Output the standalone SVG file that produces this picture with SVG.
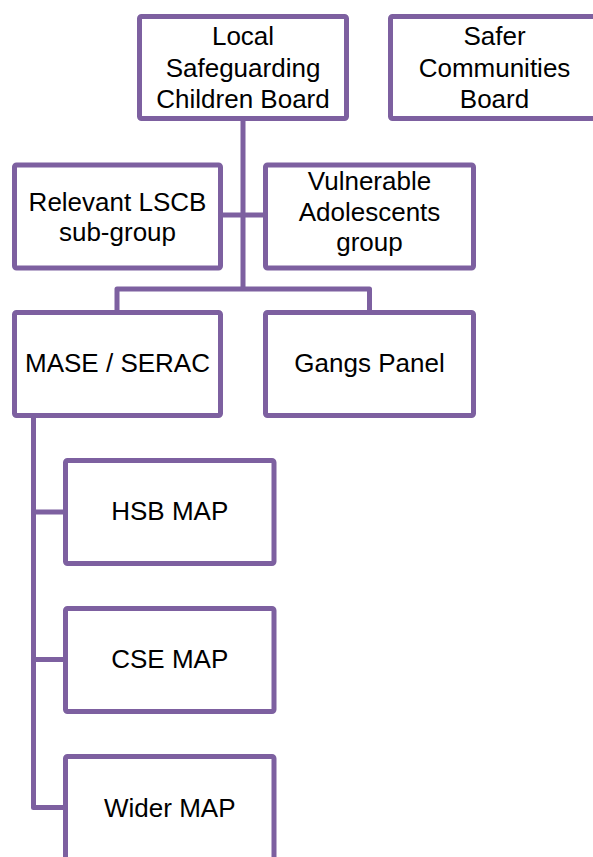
<svg xmlns="http://www.w3.org/2000/svg" width="593" height="857" viewBox="0 0 593 857">
<style>
.box{fill:#fff;stroke:#7D60A0;stroke-width:5;}
.ln{fill:none;stroke:#7D60A0;stroke-width:5;stroke-linejoin:round;}
text{font-family:"Liberation Sans",Arial,sans-serif;font-size:26px;fill:#000;text-anchor:middle;}
</style>
<rect width="593" height="857" fill="#fff"/>
<g id="connectors">
<path class="ln" d="M243,118.5 V289"/>
<path class="ln" d="M220.5,215 H265.5"/>
<path class="ln" d="M117,312.5 V289 H369.5 V312.5"/>
<path class="ln" d="M33.5,415.5 V807.5 H65.5"/>
<path class="ln" d="M33.5,512 H65.5"/>
<path class="ln" d="M33.5,659.5 H65.5"/>
</g>
<g id="lscb">
<rect class="box" x="139.5" y="16.5" width="207" height="102" rx="2"/>
<text x="243" y="45">Local</text>
<text x="243" y="77">Safeguarding</text>
<text x="243" y="108">Children Board</text>
</g>
<g id="safer">
<rect class="box" x="390.5" y="16.5" width="208" height="102" rx="2"/>
<text x="494.5" y="45">Safer</text>
<text x="494.5" y="77">Communities</text>
<text x="494.5" y="108">Board</text>
</g>
<g id="relevant">
<rect class="box" x="14.5" y="165" width="206" height="103" rx="2"/>
<text x="117.5" y="211">Relevant LSCB</text>
<text x="117.5" y="241">sub-group</text>
</g>
<g id="vulnerable">
<rect class="box" x="265.5" y="165" width="208" height="103" rx="2"/>
<text x="369.5" y="190">Vulnerable</text>
<text x="369.5" y="221">Adolescents</text>
<text x="369.5" y="251">group</text>
</g>
<g id="mase">
<rect class="box" x="14.5" y="312.5" width="206" height="103" rx="2"/>
<text x="117.5" y="372">MASE / SERAC</text>
</g>
<g id="gangs">
<rect class="box" x="265.5" y="312.5" width="208" height="103" rx="2"/>
<text x="369.5" y="372">Gangs Panel</text>
</g>
<g id="hsb">
<rect class="box" x="65.5" y="460.5" width="208.5" height="103" rx="2"/>
<text x="169.75" y="520">HSB MAP</text>
</g>
<g id="cse">
<rect class="box" x="65.5" y="608.5" width="208.5" height="103" rx="2"/>
<text x="169.75" y="668">CSE MAP</text>
</g>
<g id="wider">
<rect class="box" x="65.5" y="756.5" width="208.5" height="103" rx="2"/>
<text x="169.75" y="817">Wider MAP</text>
</g>
</svg>
